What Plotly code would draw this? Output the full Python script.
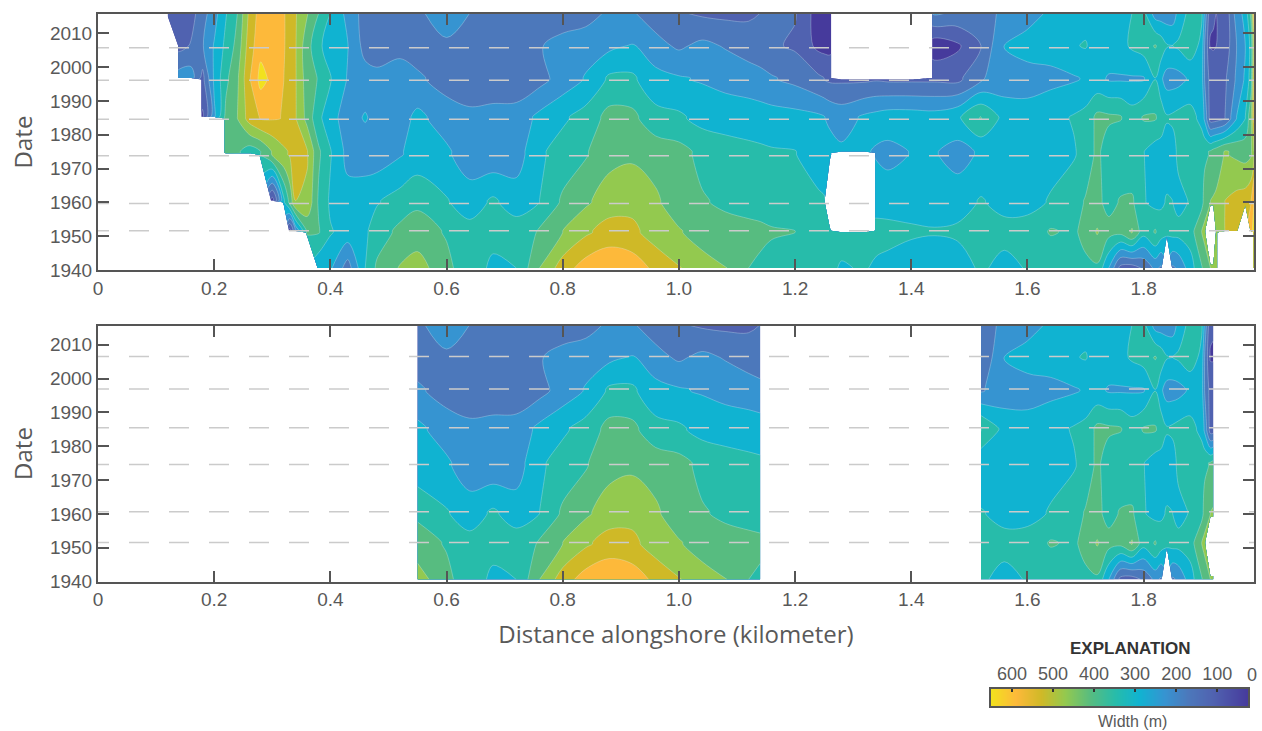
import plotly.graph_objects as go

N = None
W, H = 1262, 731

distance_km = [
    .12, .14, .16, .18, .20, .22, .24, .26, .28, .30,
    .32, .33, .34, .36, .38, .40, .43, .46, .48, .52,
    .55, .60, .64, .68, .72, .76, .80, .84, .88, .92,
    .96, 1.00, 1.04, 1.08, 1.12, 1.14, 1.16, 1.20, 1.24, 1.25,
    1.26, 1.28, 1.32, 1.34, 1.36, 1.40, 1.44, 1.48, 1.52, 1.56,
    1.60, 1.64, 1.68, 1.70, 1.72, 1.74, 1.76, 1.78, 1.80, 1.82,
    1.83, 1.84, 1.85, 1.86, 1.88, 1.90, 1.905, 1.915, 1.92, 1.925,
    1.94, 1.96, 1.975, 1.985, 1.99,
]

width_1940 = [
    N, N, N, N, N, N, N, N, N, N,
    N, N, N, N, 270, 270, 170, 320, 390, 445,
    470, 395, 345, 310, 320, 440, 530, 590, 610, 595,
    545, 505, 465, 445, 380, 370, 360, 345, 340, 335,
    330, 315, 325, 310, 300, 280, 270, 290, 330, 300,
    325, 330, 340, 365, 370, 260, 120, 110, 150, 215,
    190, N, 190, 210, 290, 375, 400, 440, 445, 450,
    N, N, N, N, 650,
]
width_1951 = [
    N, N, N, N, N, N, N, N, N, N,
    N, 50, 210, 390, 385, 325, 295, 310, 350, 395,
    405, 375, 340, 335, 350, 385, 440, 490, 525, 515,
    470, 445, 415, 400, 395, 392, 385, 380, 340, 335,
    335, N, N, 340, 340, 330, 325, 330, 335, 340,
    345, 385, 370, 400, 445, 400, 395, 445, 340, 385,
    350, 320, 340, 340, 350, 440, 460, N, N, 470,
    500, 530, N, 600, 650,
]
width_1960 = [
    N, N, N, N, N, N, N, N, N, 50,
    310, 400, 500, 490, 370, 310, 285, 300, 315, 345,
    370, 325, 290, 330, 290, 320, 390, 430, 470, 480,
    450, 405, 385, 370, 360, 355, 350, 345, 330, 325,
    N, N, N, 295, 290, 290, 285, 295, 325, 300,
    300, 325, 355, 385, 395, 360, 385, 390, 325, 300,
    310, 325, 320, 300, 325, 360, 400, 440, 445, 450,
    500, 520, 530, 560, 620,
]
width_1974 = [
    N, N, N, N, N, 430, 390, 350, 380, 445,
    490, 505, 530, 505, 390, 325, 240, 225, 225, 255,
    280, 270, 225, 215, 230, 310, 345, 375, 420, 430,
    415, 400, 365, 345, 335, 330, 325, 322, 290, 285,
    280, N, N, 255, 245, 262, 265, 235, 270, 280,
    290, 300, 315, 340, 395, 345, 330, 325, 322, 290,
    290, 290, 295, 335, 340, 360, 370, 385, 400, 410,
    445, 430, 420, 430, 500,
]
width_1985 = [
    N, N, N, 70, 250, 395, 440, 525, 565, 565,
    558, 525, 505, 420, 335, 280, 235, 265, 240, 235,
    275, 230, 215, 225, 225, 275, 310, 345, 400, 395,
    340, 330, 300, 295, 290, 288, 285, 280, 270, 262,
    250, 235, 270, 280, 290, 290, 285, 310, 385, 300,
    285, 300, 325, 340, 395, 390, 385, 350, 385, 385,
    360, 325, 330, 340, 345, 300, 250, 110, 110, 115,
    140, 260, 320, 430, 570,
]
width_1996 = [
    N, 230, 230, 120, 270, 365, 430, 550, 640, 605,
    560, 530, 505, 410, 375, 325, 255, 225, 215, 215,
    210, 175, 160, 155, 160, 180, 225, 265, 330, 330,
    280, 265, 255, 240, 230, 220, 205, 185, 150, 140,
    130, N, N, N, N, N, 130, 125, 195, 225,
    235, 245, 255, 265, 275, 255, 255, 255, 255, 320,
    270, 235, 235, 240, 270, 285, 200, 115, 110, 110,
    130, 210, 270, 350, 560,
]
width_2006 = [
    N, 120, 145, 195, 265, 335, 400, 530, 600, 619,
    565, 535, 505, 400, 340, 270, 262, 178, 170, 190,
    170, 190, 178, 165, 170, 195, 225, 235, 245, 265,
    220, 190, 215, 195, 170, 160, 150, 130, 65, 60,
    60, N, N, N, N, N, 40, 70, 140, 265,
    285, 285, 315, 325, 290, 295, 300, 330, 350, 385,
    360, 325, 320, 330, 360, 300, 200, 75, 75, 80,
    100, 200, 260, 340, 520,
]
width_2016 = [
    90, 110, 115, 175, 235, 315, 380, 510, 590, 600,
    565, 535, 505, 445, 380, 320, 240, 175, 170, 160,
    190, 230, 200, 170, 160, 150, 160, 175, 210, 205,
    170, 145, 130, 125, 130, 140, 150, 145, 50, 45,
    45, N, N, N, N, N, 210, 190, 170, 215,
    235, 270, 290, 295, 300, 305, 310, 320, 335, 230,
    225, 225, 225, 280, 340, 330, 250, 90, 85, 80,
    90, 230, 280, 400, 600,
]

band_colors = ["#463a9c", "#5062b0", "#4c78bb", "#3694d1", "#10b3d1", "#27bcaa",
               "#57bc80", "#93c94f", "#cfb927", "#fdb93a", "#f2e11e"]
dash_dates_top = [2005.7, 1996.1, 1984.6, 1973.8, 1959.7, 1951.6]
dash_dates_bottom = [2006.5, 1996.9, 1985.5, 1974.6, 1960.6, 1951.5]
x_ticks = [0, .2, .4, .6, .8, 1.0, 1.2, 1.4, 1.6, 1.8]
x_labels = ["0", "0.2", "0.4", "0.6", "0.8", "1.0", "1.2", "1.4", "1.6", "1.8"]
y_ticks = [1940, 1950, 1960, 1970, 1980, 1990, 2000, 2010]
key_widths = [651, 590, 530, 470, 410, 350, 290, 230, 170, 110, 25]
key_ticks = [100, 200, 300, 400, 500, 600]

TXT = "#595959"
FRAME = "#555555"
FONT = "Liberation Sans"


def edit(row, blank=(), fill=None):
    """A survey row just beside a step or hole in the coverage."""
    out = list(row)
    for km in blank:
        out[distance_km.index(km)] = None
    for km, v in (fill or {}).items():
        out[distance_km.index(km)] = v
    return out


survey_rows = [
    (1940.6, width_1940),
    (1951.1, edit(width_1951, blank=[.33, .34, 1.94, 1.96, 1.975, 1.985], fill={1.28: 340, 1.32: 340, 1.84: 330})),
    (1951.6, width_1951),
    (1960.0, edit(width_1960, blank=[.30])),
    (1960.5, width_1960),
    (1974.1, edit(width_1974, blank=[.22, .24, .26])),
    (1974.6, width_1974),
    (1975.1, edit(width_1974, fill={1.28: 270, 1.32: 265})),
    (1984.8, edit(width_1985, blank=[.18, .20])),
    (1985.3, width_1985),
    (1996.3, edit(width_1996, blank=[.14, .16], fill={1.28: 130, 1.32: 130, 1.34: 135, 1.36: 130, 1.40: 130})),
    (1996.8, width_1996),
    (2006.3, width_2006),
    (2016, width_2016),
]
survey_dates = [d for d, _ in survey_rows]
width_rows = [r for _, r in survey_rows]

scale = []
n = len(band_colors)
for i, c in enumerate(band_colors):
    scale += [[i / n, c], [(i + 1) / n, c]]

contour_style = dict(
    zmin=20, zmax=680, colorscale=scale, showscale=False, autocontour=False,
    contours=dict(start=80, end=620, size=60, coloring="fill"),
    line=dict(color="rgba(225,240,245,0.5)", width=0.6),
    connectgaps=False, hoverinfo="skip",
)

fig = go.Figure()
fig.add_trace(go.Contour(x=distance_km, y=survey_dates, z=width_rows, xaxis="x", yaxis="y", **contour_style))


def segment(lo, hi):
    a, b = distance_km.index(lo), distance_km.index(hi) + 1
    return distance_km[a:b], [r[a:b] for r in width_rows]


for lo, hi in [(.55, 1.14), (1.52, 1.92)]:
    xs, zs = segment(lo, hi)
    fig.add_trace(go.Contour(x=xs, y=survey_dates, z=zs, xaxis="x2", yaxis="y2", **contour_style))

for dates, xa_, ya_ in [(dash_dates_top, "x", "y"), (dash_dates_bottom, "x2", "y2")]:
    for d in dates:
        fig.add_trace(go.Scatter(x=[-0.0155, 1.99], y=[d, d], mode="lines", xaxis=xa_, yaxis=ya_,
                                 line=dict(color="#cbcbcb", width=1.5, dash="20px,20px"),
                                 showlegend=False, hoverinfo="skip"))

key_scale = [[(w - 25) / (651 - 25), c] for w, c in zip(key_widths[::-1], band_colors)]
fig.add_trace(go.Heatmap(x=key_widths, y=[0, 1], z=[key_widths, key_widths], xaxis="x3", yaxis="y3",
                         zmin=25, zmax=651, colorscale=key_scale, showscale=False, zsmooth="best",
                         hoverinfo="skip"))


def dom_x(a, b):
    return [a / W, b / W]


def dom_y(top, bottom):
    return [1 - bottom / H, 1 - top / H]


xa = dict(range=[0, 1.99], domain=dom_x(98, 1254), tickvals=x_ticks, ticktext=x_labels, automargin=False,
          ticks="inside", ticklen=11, tickwidth=2, tickcolor=FRAME, showline=True, linecolor=FRAME,
          linewidth=2, mirror="ticks", showgrid=False, zeroline=False,
          tickfont=dict(family=FONT, size=19, color=TXT))
ya = dict(range=[1940, 2015.7], tickvals=y_ticks, ticks="inside", ticklen=11, tickwidth=2, automargin=False,
          tickcolor=FRAME, showline=True, linecolor=FRAME, linewidth=2, mirror="ticks",
          showgrid=False, zeroline=False, tickfont=dict(family=FONT, size=19, color=TXT),
          title=dict(text="Date", font=dict(family="Open Sans", size=24, color=TXT), standoff=11))

fig.update_layout(
    width=W, height=H, margin=dict(l=0, r=0, t=0, b=0), paper_bgcolor="white", plot_bgcolor="white",
    showlegend=False,
    xaxis=dict(xa, anchor="y"),
    yaxis=dict(ya, domain=dom_y(14, 270), anchor="x"),
    xaxis2=dict(xa, anchor="y2",
                title=dict(text="Distance alongshore (kilometer)",
                           font=dict(family="Open Sans", size=24, color=TXT), standoff=17)),
    yaxis2=dict(ya, domain=dom_y(325.5, 581.5), anchor="x2"),
    xaxis3=dict(range=[651, 25], domain=dom_x(991, 1248), anchor="y3", side="top", tickvals=key_ticks,
                ticks="inside", ticklen=3, tickwidth=1.5, tickcolor="#333333", showline=True, automargin=False,
                linecolor="#555555", linewidth=1.5, mirror=True, showgrid=False, zeroline=False,
                tickfont=dict(family=FONT, size=18, color=TXT)),
    yaxis3=dict(range=[0, 1], domain=dom_y(689, 706), anchor="x3", showticklabels=False, ticks="", automargin=False,
                showline=True, linecolor="#555555", linewidth=1.5, mirror=True, showgrid=False, zeroline=False),
    annotations=[
        dict(text="<b>EXPLANATION</b>", x=1130 / W, y=1 - 648 / H, xref="paper", yref="paper", showarrow=False,
             xanchor="center", yanchor="middle", font=dict(family=FONT, size=17, color="#333333")),
        dict(text="0", x=1252 / W, y=1 - 675 / H, xref="paper", yref="paper", showarrow=False,
             xanchor="center", yanchor="middle", font=dict(family=FONT, size=18, color=TXT)),
        dict(text="Width (m)", x=1132 / W, y=1 - 721 / H, xref="paper", yref="paper", showarrow=False,
             xanchor="center", yanchor="middle", font=dict(family=FONT, size=16, color=TXT)),
    ],
)

fig.write_html("out.html", post_script="document.body.style.margin='0';", config=dict(displayModeBar=False))
